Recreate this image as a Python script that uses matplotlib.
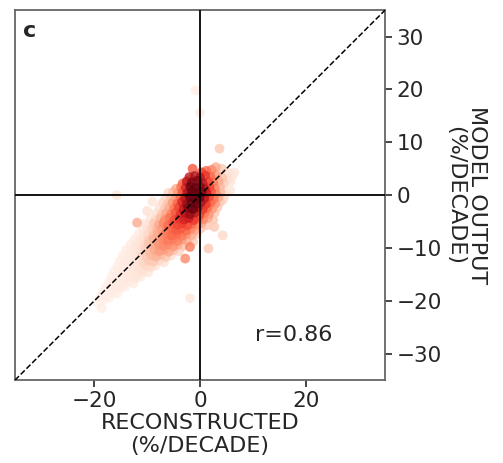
import numpy as np
import matplotlib
matplotlib.use("Agg")
import matplotlib.pyplot as plt

# reconstructed trend (x), model output trend (y), relative point density (d)
x_pts = [
    -1.4, 0.3, 1.2, 2.2, 3.0, 4.1, 5.2, 6.2, 5.7, 3.7, -0.8, 0.0, -15.8,
    -2.0, -1.0, 0.0, 1.0, 2.0, 3.0, 4.2, 5.3,
    -3.3, -2.5, -1.5, -0.5, 0.5, 1.5, 2.5, 3.5, 4.5,
    -4.5, -3.6, -2.7, -1.8, -0.9, 0.0, 0.9, 1.8, 2.8, 3.8,
    -6.0, -5.1, -4.2, -3.3, -2.4, -1.5, -0.6, 0.3, 1.2, 2.1, 3.0, 3.9, 4.8,
    -6.5, -5.5, -4.6, -3.7, -2.8, -1.9, -1.0, -0.1, 0.8, 1.7, 2.6, 3.5, 4.4,
    -7.0, -6.1, -5.2, -4.3, -3.4, -2.5, -1.6, -0.7, 0.2, 1.1, 2.0, 2.9, 3.8,
    -7.6, -6.7, -5.8, -4.9, -4.0, -3.1, -2.2, -1.3, -0.4, 0.5, 1.4, 2.3, 3.3,
    -8.2, -7.3, -6.4, -5.5, -4.6, -3.7, -2.8, -1.9, -1.0, -0.1, 0.8, 1.7, 2.8,
    -9.3, -8.4, -7.5, -6.6, -5.7, -4.8, -3.9, -3.0, -2.1, -1.2, -0.3, 0.6, 1.5, 2.5,
    -10.5, -9.6, -8.7, -7.8, -6.9, -6.0, -5.1, -4.2, -3.3, -2.4, -1.5, -0.6, 0.3, 1.3,
    -11.9, 2.7, 4.3, -10.0, -9.0, 6.5, 5.8,
    -10.8, -9.9, -9.0, -8.1, -7.2, -6.3, -5.4, -4.5, -3.6, -2.7, -1.8, -0.9, 0.1,
    -11.6, -10.7, -9.8, -8.9, -8.0, -7.1, -6.2, -5.3, -4.4, -3.5, -2.6, -1.6, -0.6,
    -12.4, -11.5, -10.6, -9.7, -8.8, -7.9, -7.0, -6.1, -5.2, -4.3, -3.4, -2.4, -1.3,
    -13.2, -12.3, -11.4, -10.5, -9.6, -8.7, -7.8, -6.9, -6.0, -5.1, -4.2, -3.2,
    -1.9, 1.6, -2.8,
    -14.0, -13.1, -12.2, -11.3, -10.4, -9.5, -8.6, -7.7, -6.8, -5.9, -5.0, -4.0,
    -14.6, -13.7, -12.8, -11.9, -11.0, -10.1, -9.2, -8.3, -7.4, -6.5, -5.5,
    -15.1, -14.2, -13.3, -12.4, -11.5, -10.6, -9.7, -8.8, -7.8, -6.8,
    -15.6, -14.7, -13.8, -12.9, -12.0, -11.1, -10.2, -9.3, -8.4,
    -16.2, -15.3, -14.4, -13.5, -12.6, -11.7, -10.8, -9.8,
    -16.7, -15.8, -14.9, -14.0, -13.1, -12.2, -11.2,
    -17.2, -16.3, -15.4, -14.5, -13.6, -12.6,
    -17.8, -16.9, -16.0, -15.1, -14.2,
    -18.4, -17.5, -16.6, -15.6,
    -19.0, -18.1, -17.2, -1.9,
    -19.3, -18.6,
]
y_pts = [
    5.0, 4.3, 4.6, 4.8, 5.3, 5.0, 4.3, 3.8, 0.9, 8.8, 19.8, 15.6, 0.0,
    3.4, 3.6, 3.3, 3.7, 3.5, 3.8, 3.3, 3.0,
    2.2, 2.6, 2.4, 2.7, 2.3, 2.6, 2.4, 2.7, 2.2,
    1.2, 1.5, 1.4, 1.6, 1.3, 1.6, 1.2, 1.5, 1.3, 1.6,
    0.4, 0.6, 0.3, 0.6, 0.4, 0.7, 0.3, 0.6, 0.4, 0.7, 0.3, 0.6, 0.2,
    -0.6, -0.4, -0.7, -0.4, -0.6, -0.3, -0.7, -0.4, -0.6, -0.3, -0.7, -0.4, -0.8,
    -1.4, -1.7, -1.4, -1.6, -1.3, -1.7, -1.4, -1.6, -1.3, -1.7, -1.4, -1.6, -1.3,
    -2.4, -2.7, -2.4, -2.6, -2.3, -2.7, -2.4, -2.6, -2.3, -2.7, -2.4, -2.6, -2.3,
    -3.4, -3.7, -3.4, -3.6, -3.3, -3.7, -3.4, -3.6, -3.3, -3.7, -3.4, -3.6, -3.3,
    -4.4, -4.7, -4.4, -4.6, -4.3, -4.7, -4.4, -4.6, -4.3, -4.7, -4.4, -4.6, -4.3, -4.7,
    -5.4, -5.7, -5.4, -5.6, -5.3, -5.7, -5.4, -5.6, -5.3, -5.7, -5.4, -5.6, -5.3, -5.7,
    -5.2, -6.0, -7.6, -3.0, -1.2, 4.3, 2.6,
    -6.4, -6.7, -6.4, -6.6, -6.3, -6.7, -6.4, -6.6, -6.3, -6.7, -6.4, -6.6, -6.3,
    -7.4, -7.7, -7.4, -7.6, -7.3, -7.7, -7.4, -7.6, -7.3, -7.7, -7.4, -7.6, -7.3,
    -8.4, -8.7, -8.4, -8.6, -8.3, -8.7, -8.4, -8.6, -8.3, -8.7, -8.4, -8.6, -8.8,
    -9.4, -9.7, -9.4, -9.6, -9.3, -9.7, -9.4, -9.6, -9.3, -9.7, -9.4, -9.6,
    -9.8, -10.1, -12.0,
    -10.4, -10.7, -10.4, -10.6, -10.3, -10.7, -10.4, -10.6, -10.3, -10.7, -10.4, -10.6,
    -11.4, -11.7, -11.4, -11.6, -11.3, -11.7, -11.4, -11.6, -11.3, -11.7, -11.4,
    -12.4, -12.7, -12.4, -12.6, -12.3, -12.7, -12.4, -12.6, -12.3, -12.7,
    -13.4, -13.7, -13.4, -13.6, -13.3, -13.7, -13.4, -13.6, -13.3,
    -14.4, -14.7, -14.4, -14.6, -14.3, -14.7, -14.4, -14.6,
    -15.4, -15.7, -15.4, -15.6, -15.3, -15.7, -15.4,
    -16.4, -16.7, -16.4, -16.6, -16.3, -16.7,
    -17.4, -17.7, -17.4, -17.6, -17.3,
    -18.4, -18.7, -18.4, -18.6,
    -19.4, -19.7, -19.4, -19.5,
    -20.4, -21.4,
]
dens = [
    0.55, 0.6, 0.5, 0.4, 0.3, 0.2, 0.12, 0.08, 0.1, 0.2, 0.05, 0.05, 0.08,
    0.8, 0.85, 0.8, 0.65, 0.5, 0.35, 0.22, 0.12,
    0.5, 0.8, 0.95, 0.95, 0.8, 0.6, 0.45, 0.3, 0.18,
    0.3, 0.45, 0.7, 1.0, 1.0, 0.95, 0.8, 0.6, 0.4, 0.25,
    0.15, 0.22, 0.35, 0.55, 0.85, 1.0, 1.0, 0.95, 0.75, 0.55, 0.4, 0.25, 0.12,
    0.15, 0.22, 0.35, 0.5, 0.8, 1.0, 1.0, 1.0, 0.8, 0.6, 0.45, 0.3, 0.15,
    0.15, 0.22, 0.35, 0.5, 0.7, 0.9, 1.0, 1.0, 0.85, 0.65, 0.5, 0.35, 0.2,
    0.12, 0.2, 0.3, 0.45, 0.6, 0.8, 0.95, 1.0, 0.85, 0.65, 0.5, 0.35, 0.2,
    0.12, 0.2, 0.3, 0.42, 0.55, 0.68, 0.8, 0.9, 0.8, 0.6, 0.45, 0.35, 0.2,
    0.1, 0.15, 0.25, 0.38, 0.48, 0.58, 0.65, 0.72, 0.75, 0.65, 0.5, 0.4, 0.3, 0.2,
    0.08, 0.12, 0.2, 0.3, 0.4, 0.5, 0.55, 0.6, 0.62, 0.58, 0.5, 0.4, 0.3, 0.2,
    0.3, 0.2, 0.15, 0.12, 0.1, 0.08, 0.1,
    0.08, 0.12, 0.18, 0.26, 0.35, 0.45, 0.5, 0.55, 0.55, 0.5, 0.42, 0.32, 0.22,
    0.06, 0.1, 0.15, 0.22, 0.3, 0.38, 0.45, 0.5, 0.5, 0.45, 0.38, 0.3, 0.2,
    0.06, 0.08, 0.12, 0.2, 0.27, 0.34, 0.4, 0.45, 0.45, 0.42, 0.35, 0.28, 0.2,
    0.06, 0.08, 0.1, 0.15, 0.22, 0.3, 0.36, 0.4, 0.4, 0.36, 0.3, 0.22,
    0.45, 0.2, 0.4,
    0.05, 0.06, 0.08, 0.12, 0.17, 0.24, 0.3, 0.34, 0.34, 0.3, 0.22, 0.16,
    0.05, 0.06, 0.07, 0.1, 0.14, 0.2, 0.25, 0.27, 0.25, 0.2, 0.14,
    0.05, 0.06, 0.07, 0.08, 0.12, 0.16, 0.2, 0.2, 0.16, 0.11,
    0.04, 0.05, 0.06, 0.07, 0.09, 0.12, 0.15, 0.14, 0.1,
    0.04, 0.05, 0.06, 0.07, 0.08, 0.1, 0.11, 0.09,
    0.04, 0.05, 0.06, 0.07, 0.08, 0.09, 0.07,
    0.04, 0.05, 0.06, 0.07, 0.07, 0.06,
    0.04, 0.05, 0.06, 0.06, 0.05,
    0.04, 0.04, 0.05, 0.04,
    0.03, 0.04, 0.04, 0.08,
    0.03, 0.04,
]

x_ticks = [-20, 0, 20]
y_ticks = [-30, -20, -10, 0, 10, 20, 30]
r_value = 0.86

x = np.array(x_pts)
y = np.array(y_pts)
d = np.array(dens)
order = np.argsort(d)

fig = plt.figure(figsize=(5.03, 4.63), dpi=100)
ax = fig.add_axes([0.0298, 0.179, 0.7356, 0.799])

ax.scatter(x[order], y[order], c=d[order], cmap='Reds', vmin=0, vmax=1,
           s=50, alpha=0.8, edgecolors='none', zorder=2)

ax.axhline(0, color='black', lw=1.3, zorder=3)
ax.axvline(0, color='black', lw=1.3, zorder=3)
ax.plot([-35, 35], [-35, 35], color='black', ls='--', lw=1.1, zorder=4)

ax.set_xlim(-35, 35)
ax.set_ylim(-35, 35)
ax.set_xticks(x_ticks)
ax.set_yticks(y_ticks)
ax.yaxis.tick_right()
ax.yaxis.set_label_position('right')
ax.tick_params(axis='both', labelsize=15.5, colors='#262626', length=5,
               width=1.2, direction='out')
ax.tick_params(axis='x', pad=3)
for sp in ax.spines.values():
    sp.set_color('#666666')
    sp.set_linewidth(1.3)

ax.set_xlabel('RECONSTRUCTED\n(%/DECADE)', fontsize=16, color='#262626',
              labelpad=1, linespacing=1.2)
ax.set_ylabel('MODEL OUTPUT\n(%/DECADE)', fontsize=16, color='#262626',
              rotation=270, va='bottom', labelpad=2, linespacing=1.1)

ax.text(0.022, 0.927, 'c', transform=ax.transAxes, fontsize=16,
        fontweight='bold', color='#262626')
ax.text(17.7, -26.5, 'r=%.2f' % r_value, fontsize=16, color='#262626',
        ha='center', va='center')

fig.savefig('out.png', dpi=100)
